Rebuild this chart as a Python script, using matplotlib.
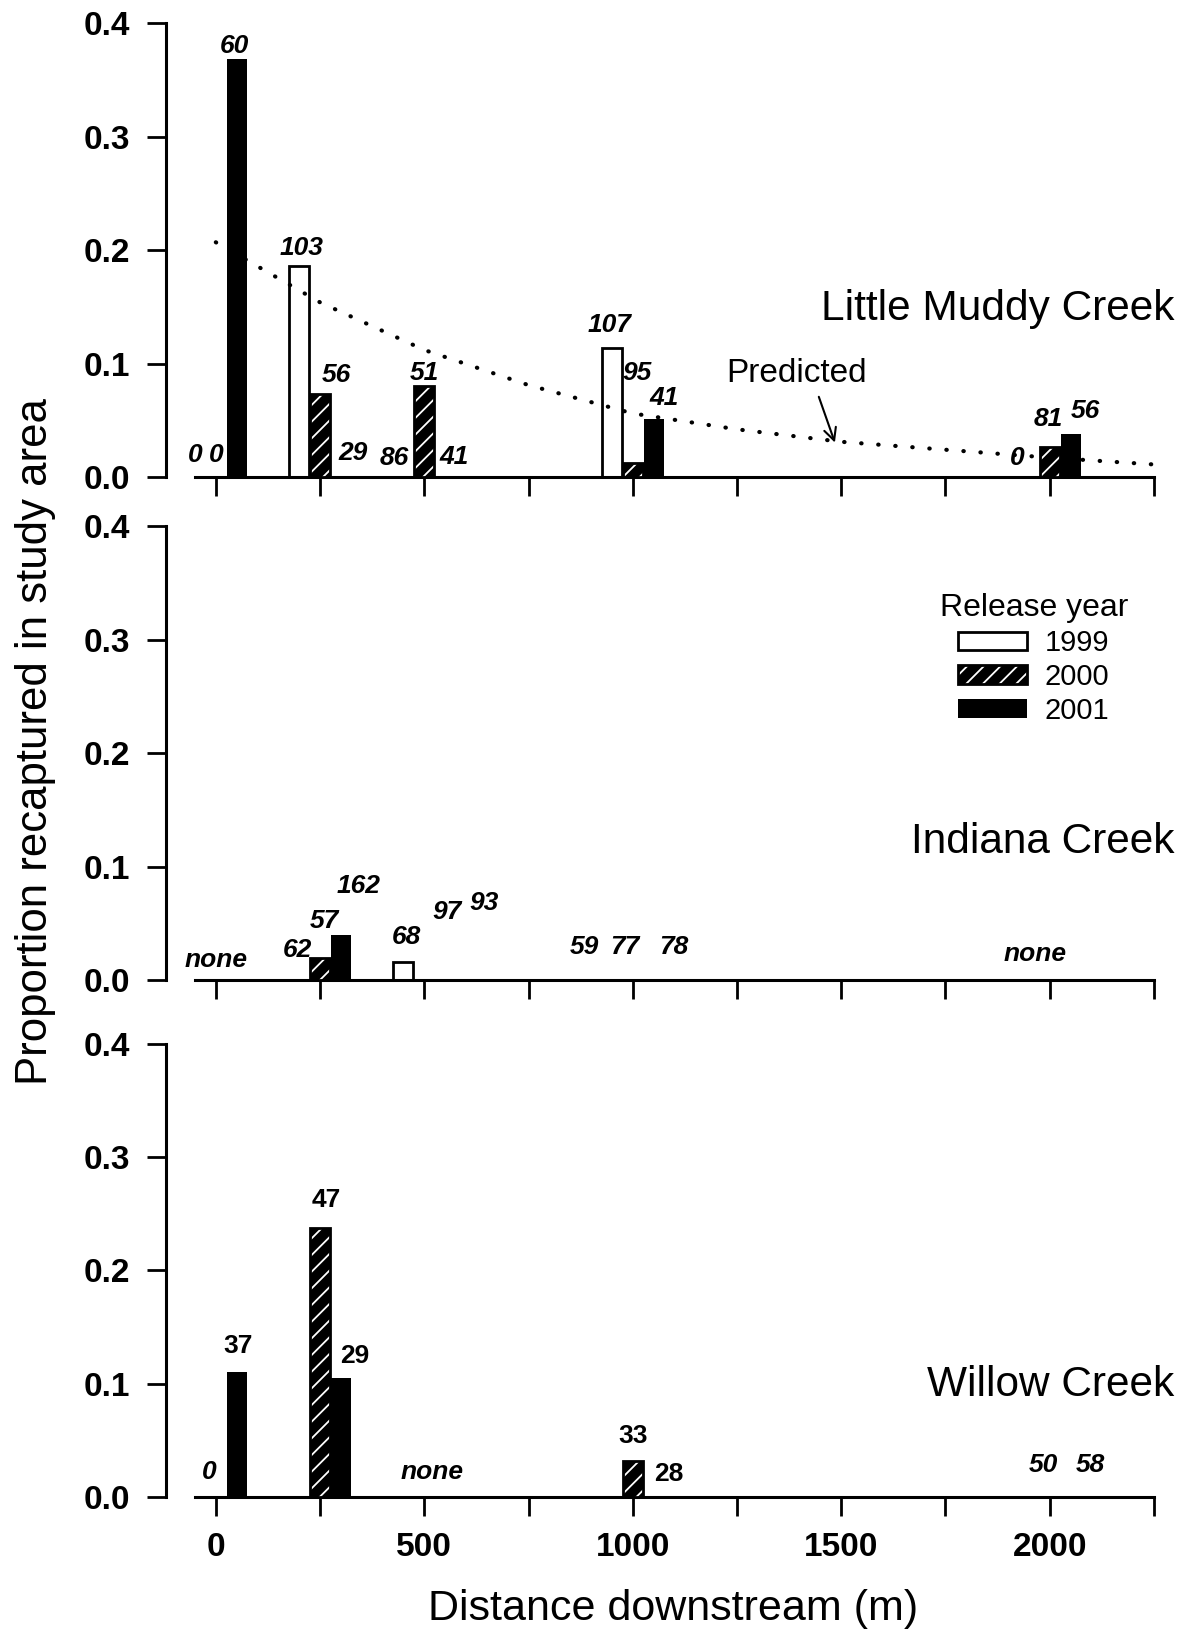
import matplotlib.pyplot as plt
import numpy as np
from matplotlib.patches import Patch
from matplotlib.legend_handler import HandlerTuple

plt.rcParams['font.family'] = ['Liberation Sans', 'DejaVu Sans']
plt.rcParams['hatch.linewidth'] = 1.3

# sampling sites (m downstream); 1999 bars sit 50 m left, 2001 bars 50 m right
sites = [0, 250, 500, 1000, 2000]
years = ['1999', '2000', '2001']

# proportion recaptured in study area (nan = no fish released)
lmc_1999 = [np.nan, 0.186, 0.0, 0.114, np.nan]
lmc_2000 = [np.nan, 0.073, 0.080, 0.012, 0.026]
lmc_2001 = [0.369, 0.0, 0.0, 0.051, 0.038]

ind_1999 = [np.nan, 0.0, 0.016, 0.0, np.nan]
ind_2000 = [np.nan, 0.019, 0.0, 0.0, np.nan]
ind_2001 = [np.nan, 0.040, 0.0, 0.0, np.nan]

wil_1999 = [np.nan, np.nan, np.nan, np.nan, np.nan]
wil_2000 = [np.nan, 0.237, np.nan, 0.032, 0.0]
wil_2001 = [0.110, 0.105, np.nan, 0.0, 0.0]

# predicted curve, Little Muddy Creek
pred_dist = [0, 250, 500, 750, 1000, 1250, 1500, 1750, 2000, 2250]
pred_prop = [0.207, 0.154, 0.112, 0.081, 0.056, 0.042, 0.031, 0.024, 0.017, 0.011]

# number of fish released (text, x, y, italic)
lmc_labels = [('0', -50, 0.019, True), ('0', 0, 0.019, True), ('60', 44, 0.380, True),
              ('103', 206, 0.202, True), ('56', 289, 0.090, True), ('29', 328, 0.021, True),
              ('86', 429, 0.017, True), ('51', 500, 0.092, True), ('41', 572, 0.018, True),
              ('107', 944, 0.134, True), ('95', 1011, 0.092, True), ('41', 1075, 0.070, True),
              ('0', 1921, 0.017, True), ('81', 1996, 0.051, True), ('56', 2086, 0.058, True)]
ind_labels = [('none', 0, 0.018, True), ('62', 195, 0.026, True), ('57', 260, 0.052, True),
              ('162', 342, 0.083, True), ('68', 458, 0.038, True), ('97', 554, 0.060, True),
              ('93', 644, 0.068, True), ('59', 884, 0.029, True), ('77', 980, 0.029, True),
              ('78', 1098, 0.029, True), ('none', 1966, 0.023, True)]
wil_labels = [('0', -16, 0.022, True), ('37', 53, 0.133, False), ('47', 266, 0.262, False),
              ('29', 333, 0.124, False), ('none', 519, 0.022, True), ('33', 1001, 0.054, False),
              ('28', 1086, 0.020, False), ('50', 1985, 0.028, True), ('58', 2097, 0.028, True)]

creeks = ['Little Muddy Creek', 'Indiana Creek', 'Willow Creek']
creek_y = [0.148, 0.122, 0.099]

bar_w = 48


def draw_bars(ax, p1999, p2000, p2001):
    x = np.array(sites, dtype=float)
    for vals, off, kind in [(p1999, -50, 'open'), (p2000, 0, 'hatch'), (p2001, 50, 'solid')]:
        v = np.array(vals, dtype=float)
        m = ~np.isnan(v)
        xs, hs = x[m] + off, v[m]
        if kind == 'open':
            ax.bar(xs, hs, width=bar_w, facecolor='white', edgecolor='black', linewidth=2, zorder=2)
        elif kind == 'hatch':
            ax.bar(xs, hs, width=bar_w, color='black', zorder=2)
            ax.bar(xs, hs, width=bar_w, facecolor='none', edgecolor='white', hatch='//',
                   linewidth=0, zorder=3)
            ax.bar(xs, hs, width=bar_w, fill=False, edgecolor='black', linewidth=2, zorder=4)
        else:
            ax.bar(xs, hs, width=bar_w, color='black', zorder=2)


def draw_labels(ax, labels):
    for txt, x, y, it in labels:
        ax.text(x, y, txt, ha='center', va='center', fontsize=19, fontweight='bold',
                style='italic' if it else 'normal', zorder=6)


fig = plt.figure(figsize=(11.91, 16.30), dpi=100)
bottoms = [0.7074, 0.3988, 0.0816]
axes = [fig.add_axes([0.1637, b, 0.8052, 0.2782]) for b in bottoms]

data = [(lmc_1999, lmc_2000, lmc_2001), (ind_1999, ind_2000, ind_2001), (wil_1999, wil_2000, wil_2001)]
all_labels = [lmc_labels, ind_labels, wil_labels]

xt = np.arange(0, 2251, 250)
for i, ax in enumerate(axes):
    draw_bars(ax, *data[i])
    draw_labels(ax, all_labels[i])
    ax.set_xlim(-50, 2250)
    ax.set_ylim(0, 0.4)
    ax.spines[['top', 'right']].set_visible(False)
    ax.spines['left'].set_position(('outward', 21))
    ax.spines['left'].set_linewidth(2.2)
    ax.spines['bottom'].set_linewidth(2.2)
    ax.set_yticks([0, 0.1, 0.2, 0.3, 0.4])
    ax.set_yticklabels(['0.0', '0.1', '0.2', '0.3', '0.4'], fontsize=24, fontweight='bold')
    ax.set_xticks(xt)
    if i == 2:
        ax.set_xticklabels([str(v) if v % 500 == 0 else '' for v in xt], fontsize=24, fontweight='bold')
    else:
        ax.set_xticklabels([])
    ax.tick_params(direction='out', length=13.5, width=2, pad=12)
    ax.text(2299, creek_y[i], creeks[i], ha='right', va='center', fontsize=30.5, clip_on=False)

# predicted curve
ax = axes[0]
ax.plot(pred_dist, pred_prop, color='black', linewidth=3, linestyle=(0, (0.1, 4.0)),
        dash_capstyle='round', zorder=5, clip_on=False)
ax.text(1392, 0.091, 'Predicted', ha='center', va='center', fontsize=24)
ax.annotate('', xy=(1487, 0.028), xytext=(1444, 0.073),
            arrowprops=dict(arrowstyle='->', color='black', lw=1.5, mutation_scale=22))

# legend
handles = [Patch(facecolor='white', edgecolor='black', linewidth=2),
           (Patch(facecolor='black'),
            Patch(facecolor='none', edgecolor='white', hatch='//', linewidth=0),
            Patch(fill=False, edgecolor='black', linewidth=2)),
           Patch(facecolor='black')]
leg = axes[1].legend(handles, years, title='Release year', loc='upper center',
                     bbox_to_anchor=(0.868, 0.645), bbox_transform=fig.transFigure,
                     frameon=False, fontsize=21, title_fontsize=23, borderpad=0,
                     handlelength=2.35, handleheight=0.6, handletextpad=0.6,
                     labelspacing=0.2, handler_map={tuple: HandlerTuple(ndivide=1, pad=0)})

fig.text(0.030, 0.5448, 'Proportion recaptured in study area', rotation=90,
         ha='center', va='center', fontsize=31.5)
fig.text(0.5655, 0.0129, 'Distance downstream (m)', ha='center', va='center', fontsize=31)

fig.savefig('out.png', dpi=100)
